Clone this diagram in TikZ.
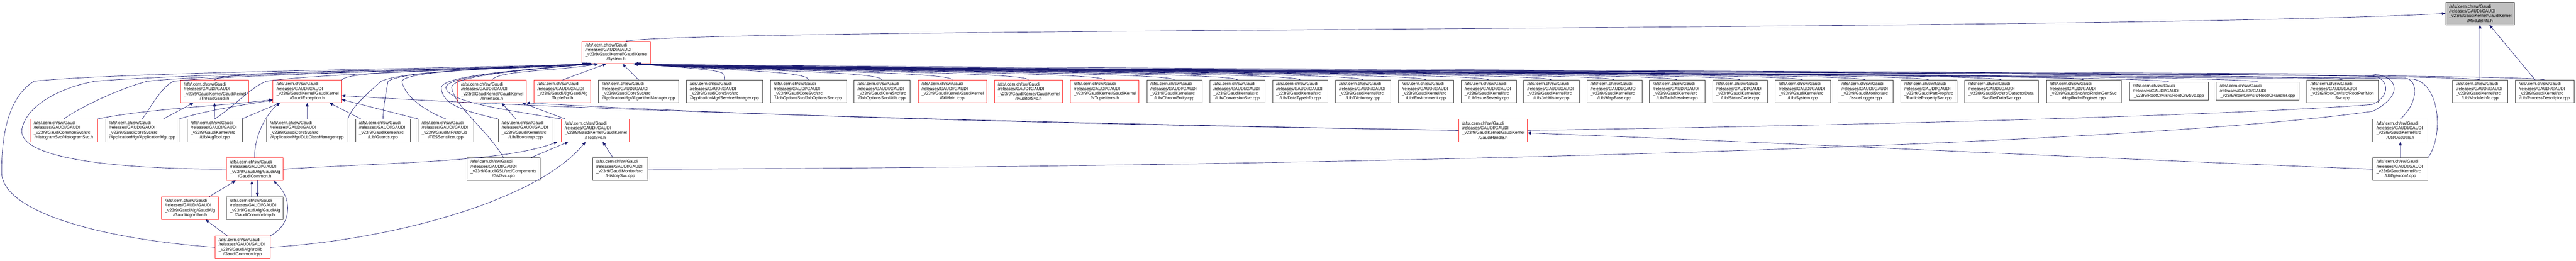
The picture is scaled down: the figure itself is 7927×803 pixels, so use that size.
\documentclass[tikz,border=0pt]{standalone}
\usepackage{fontspec}
\newfontfamily\dfont{Liberation Sans}
\usetikzlibrary{arrows.meta,calc}
\definecolor{edgec}{HTML}{191970}
\definecolor{redb}{HTML}{FF3030}
\definecolor{grayf}{HTML}{BFBFBF}
\tikzset{
 gbox/.style={draw, rectangle, line width=1.2pt, inner xsep=11pt, inner ysep=0pt, align=left,
   font=\dfont\fontsize{13}{14.7}\selectfont},
 rbox/.style={gbox, draw=redb},
 bbox/.style={gbox, draw=black!75},
 fbox/.style={gbox, draw=black!75, fill=grayf},
 edge/.style={draw=edgec, line width=1.1pt, -{Triangle[length=11pt,width=9pt]}},
}
\newcommand\pa{/afs/.cern.ch/sw/Gaudi\\/releases/GAUDI/GAUDI\\}
\newcommand\lastln[1]{\makebox[\linewidth][c]{#1}}
\newcommand\gn[7]{%
 \pgfmathsetmacro\gw{#4-#3}\pgfmathsetmacro\gh{#6-#5}\pgfmathsetmacro\gtw{#4-#3-22}%
 \pgfmathsetmacro\gcx{(#3+#4)/2}\pgfmathsetmacro\gcy{(#5+#6)/2}%
 \node[#1, minimum width=\gw pt, minimum height=\gh pt, text width=\gtw pt] (#2) at (\gcx,\gcy) {#7};}
\newcommand\GK{\_v23r9/GaudiKernel/GaudiKernel\\}
\newcommand\GS{\_v23r9/GaudiKernel/src\\}
\newcommand\CS{\_v23r9/GaudiCoreSvc/src\\}
\begin{document}
\begin{tikzpicture}[x=1pt,y=-1pt]
\fill[white] (0,0) rectangle (7927,803);
\useasboundingbox (0,0) rectangle (7927,803);
% rank 0
\gn{fbox}{mi}{7526}{7737}{7}{76}{\pa\GK\lastln{/ModuleInfo.h}}
% rank 1
\gn{rbox}{sys}{1790}{2001}{127}{196}{\pa\GK\lastln{/System.h}}
% rank 2
\gn{rbox}{tg}{555}{765}{247}{316}{\pa\GK\lastln{/ThreadGaudi.h}}
\gn{rbox}{gex}{840}{1051}{247}{316}{\pa\GK\lastln{/GaudiException.h}}
\gn{rbox}{ii}{1408}{1619}{247}{316}{\pa\GK\lastln{/IInterface.h}}
\gn{rbox}{tp}{1643}{1818}{247}{316}{\pa\_v23r9/GaudiAlg/GaudiAlg\\\lastln{/TuplePut.h}}
\gn{bbox}{am}{1842}{2089}{247}{316}{\pa\CS\lastln{/ApplicationMgr/AlgorithmManager.cpp}}
\gn{bbox}{sm}{2112}{2347}{247}{316}{\pa\CS\lastln{/ApplicationMgr/ServiceManager.cpp}}
\gn{bbox}{jo}{2371}{2605}{247}{316}{\pa\CS\lastln{/JobOptionsSvc/JobOptionsSvc.cpp}}
\gn{bbox}{ut}{2628}{2800}{247}{316}{\pa\CS\lastln{/JobOptionsSvc/Utils.cpp}}
\gn{rbox}{dm}{2825}{3036}{247}{316}{\pa\GK\lastln{/DllMain.icpp}}
\gn{rbox}{ia}{3060}{3270}{247}{316}{\pa\GK\lastln{/IAuditorSvc.h}}
\gn{rbox}{nt}{3294}{3505}{247}{316}{\pa\GK\lastln{/NTupleItems.h}}
\gn{bbox}{ce}{3529}{3699}{247}{316}{\pa\GS\lastln{/Lib/ChronoEntity.cpp}}
\gn{bbox}{cs}{3723}{3893}{247}{316}{\pa\GS\lastln{/Lib/ConversionSvc.cpp}}
\gn{bbox}{dt}{3916}{4086}{247}{316}{\pa\GS\lastln{/Lib/DataTypeInfo.cpp}}
\gn{bbox}{di}{4110}{4279}{247}{316}{\pa\GS\lastln{/Lib/Dictionary.cpp}}
\gn{bbox}{en}{4303}{4473}{247}{316}{\pa\GS\lastln{/Lib/Environment.cpp}}
\gn{bbox}{is}{4496}{4666}{247}{316}{\pa\GS\lastln{/Lib/IssueSeverity.cpp}}
\gn{bbox}{jh}{4689}{4859}{247}{316}{\pa\GS\lastln{/Lib/JobHistory.cpp}}
\gn{bbox}{mb}{4883}{5053}{247}{316}{\pa\GS\lastln{/Lib/MapBase.cpp}}
\gn{bbox}{pr}{5076}{5246}{247}{316}{\pa\GS\lastln{/Lib/PathResolver.cpp}}
\gn{bbox}{sc}{5270}{5439}{247}{316}{\pa\GS\lastln{/Lib/StatusCode.cpp}}
\gn{bbox}{sy}{5463}{5633}{247}{316}{\pa\GS\lastln{/Lib/System.cpp}}
\gn{bbox}{il}{5656}{5826}{247}{316}{\pa\_v23r9/GaudiMonitor/src\\\lastln{/IssueLogger.cpp}}
\gn{bbox}{pp}{5849}{6022}{247}{316}{\pa\_v23r9/GaudiPartProp/src\\\lastln{/ParticlePropertySvc.cpp}}
\gn{bbox}{dd}{6046}{6273}{247}{316}{\pa\_v23r9/GaudiSvc/src/DetectorData\\\lastln{Svc/DetDataSvc.cpp}}
\gn{bbox}{he}{6297}{6528}{247}{316}{\pa\_v23r9/GaudiSvc/src/RndmGenSvc\\\lastln{/HepRndmEngines.cpp}}
\gn{bbox}{rc}{6553}{6795}{253}{308}{\pa\lastln{\_v23r9/RootCnv/src/RootCnvSvc.cpp}}
\gn{bbox}{rio}{6820}{7075}{253}{308}{\pa\lastln{\_v23r9/RootCnv/src/RootIOHandler.cpp}}
\gn{bbox}{rpm}{7099}{7319}{247}{316}{\pa\_v23r9/RootCnv/src/RootPerfMon\\\lastln{Svc.cpp}}
\gn{bbox}{mic}{7547}{7716}{247}{316}{\pa\GS\lastln{/Lib/ModuleInfo.cpp}}
\gn{bbox}{pd}{7740}{7921}{247}{316}{\pa\GS\lastln{/Lib/ProcessDescriptor.cpp}}
% rank 3
\gn{rbox}{hs}{93}{300}{367}{436}{\pa\_v23r9/GaudiCommonSvc/src\\\lastln{/HistogramSvc/HistogramSvc.h}}
\gn{bbox}{amg}{325}{551}{367}{436}{\pa\CS\lastln{/ApplicationMgr/ApplicationMgr.cpp}}
\gn{bbox}{at}{576}{746}{367}{436}{\pa\GS\lastln{/Lib/AlgTool.cpp}}
\gn{bbox}{dll}{820}{1070}{367}{436}{\pa\CS\lastln{/ApplicationMgr/DLLClassManager.cpp}}
\gn{bbox}{gu}{1094}{1263}{367}{436}{\pa\GS\lastln{/Lib/Guards.cpp}}
\gn{bbox}{tes}{1287}{1457}{367}{436}{\pa\_v23r9/GaudiMP/src/Lib\\\lastln{/TESSerializer.cpp}}
\gn{bbox}{bs}{1533}{1702}{367}{436}{\pa\GS\lastln{/Lib/Bootstrap.cpp}}
\gn{rbox}{its}{1727}{1937}{367}{436}{\pa\GK\lastln{/IToolSvc.h}}
\gn{rbox}{gh}{4489}{4700}{367}{436}{\pa\GK\lastln{/GaudiHandle.h}}
\gn{bbox}{dso}{7302}{7471}{367}{436}{\pa\GS\lastln{/Util/DsoUtils.h}}
% rank 4
\gn{rbox}{gc}{697}{871}{486}{556}{\pa\_v23r9/GaudiAlg/GaudiAlg\\\lastln{/GaudiCommon.h}}
\gn{bbox}{gsl}{1437}{1662}{486}{556}{\pa\_v23r9/GaudiGSL/src/Components\\\lastln{/GslSvc.cpp}}
\gn{bbox}{hist}{1824}{1994}{486}{556}{\pa\_v23r9/GaudiMonitor/src\\\lastln{/HistorySvc.cpp}}
\gn{bbox}{gen}{7302}{7471}{486}{556}{\pa\GS\lastln{/Util/genconf.cpp}}
% rank 5
\gn{rbox}{ga}{497}{673}{606}{676}{\pa\_v23r9/GaudiAlg/GaudiAlg\\\lastln{/GaudiAlgorithm.h}}
\gn{bbox}{gci}{697}{871}{606}{676}{\pa\_v23r9/GaudiAlg/GaudiAlg\\\lastln{/GaudiCommonImp.h}}
% rank 6
\gn{rbox}{gcp}{662}{831}{727}{796}{\pa\_v23r9/GaudiAlg/src/lib\\\lastln{/GaudiCommon.icpp}}

% ---- edges
\draw[edge] ([xshift=30pt]sys.north) .. controls (2200,85) and (6500,95) .. (mi.west);
\draw[edge] (mic) -- (mi);
\draw[edge] (pd) -- (mi);
% rank 2 to System.h
\draw[edge] (tg.north) .. controls +(30,-35) and +(-300,22) .. ([xshift=-80pt]sys.south);
\draw[edge] (gex.north east) .. controls +(20,-35) and +(-250,22) .. ([xshift=-70pt]sys.south);
\draw[edge] (ii.north) .. controls +(20,-30) and +(-120,22) .. ([xshift=-55pt]sys.south);
\draw[edge] (tp.north) -- ([xshift=-30pt]sys.south);
\draw[edge] (am.north) -- ([xshift=20pt]sys.south);
\foreach \n in {sm,jo,ut,dm,ia,nt,ce,cs,dt,di,en,is,jh,mb,pr,sc,sy,il,pp,dd,he,rc,rio,rpm,mic,pd}
  {\draw[edge] (\n.north) .. controls +(0,-28) and +(300,22) .. ([xshift=55pt]sys.south);}
% rank 3 and below to System.h (through the rank-2 gaps)
\draw[edge] (hs.north) .. controls (260,320) and (400,262) .. (455,250) .. controls (700,225) and (1500,215) .. ([xshift=-90pt]sys.south);
\draw[edge] (amg.north) .. controls (470,320) and (500,265) .. (535,250) .. controls (800,225) and (1500,215) .. ([xshift=-88pt]sys.south);
\draw[edge] (at.north) .. controls (730,320) and (770,270) .. (820,250) .. controls (1000,225) and (1500,215) .. ([xshift=-86pt]sys.south);
\draw[edge] (dll.north east) .. controls (1080,330) and (1140,280) .. (1173,250) .. controls (1250,215) and (1600,210) .. ([xshift=-84pt]sys.south);
\draw[edge] (gu.north) .. controls (1180,320) and (1190,275) .. (1194,250) .. controls (1250,215) and (1600,210) .. ([xshift=-82pt]sys.south);
\draw[edge] (tes.north) .. controls (1280,330) and (1240,280) .. (1237,250) .. controls (1250,215) and (1600,210) .. ([xshift=-80pt]sys.south);
\draw[edge] (bs.north west) .. controls (1420,340) and (1360,320) .. (1358,270) .. controls (1360,230) and (1650,212) .. ([xshift=-76pt]sys.south);
\draw[edge] (its.north west) .. controls (1500,330) and (1380,310) .. (1372,270) .. controls (1372,230) and (1660,212) .. ([xshift=-74pt]sys.south);
\draw[edge] (gsl.north) .. controls (1500,400) and (1400,330) .. (1390,270) .. controls (1385,230) and (1670,212) .. ([xshift=-72pt]sys.south);
\draw[edge] (gc.west) .. controls (300,520) and (60,480) .. (67,400) .. controls (80,320) and (200,265) .. (295,250) .. controls (600,225) and (1500,212) .. ([xshift=-92pt]sys.south);
\draw[edge] (gcp.west) .. controls (300,735) and (5,650) .. (5,530) .. controls (5,380) and (40,290) .. (105,250) .. controls (400,220) and (1500,210) .. ([xshift=-94pt]sys.south);
\draw[edge] (hist.east) .. controls (4000,515) and (6500,455) .. (7300,343) .. controls (7390,300) and (7390,235) .. (7300,228) .. controls (5000,218) and (2400,205) .. ([xshift=60pt]sys.south);
\draw[edge] (gh.east) .. controls (5500,390) and (6800,360) .. (7300,322) .. controls (7360,295) and (7350,240) .. (7300,233) .. controls (5000,222) and (2400,208) .. ([xshift=62pt]sys.south);
\draw[edge] (dso.north) .. controls (7440,320) and (7445,245) .. (7400,240) .. controls (5000,225) and (2400,210) .. ([xshift=64pt]sys.south);
\draw[edge] (gen.north east) .. controls (7520,420) and (7510,250) .. (7420,243) .. controls (5000,228) and (2400,210) .. ([xshift=66pt]sys.south);
% other edges
\draw[edge] (amg) -- (tg);
\draw[edge] (at.north) -- (tg.south);
\draw[edge] (hs.north east) .. controls (450,335) and (700,325) .. ([yshift=10pt]gex.south west);
\draw[edge] (amg.north east) .. controls (620,345) and (700,330) .. ([yshift=8pt]gex.south west);
\draw[edge] (at) -- (gex);
\draw[edge] (dll) -- (gex);
\draw[edge] (gu) -- (gex);
\draw[edge] (tes.north west) -- ([yshift=10pt]gex.south east);
\draw[edge] (gh.west) .. controls (3000,375) and (1800,340) .. ([yshift=22pt]gex.south east);
\draw[edge] (gh.west) .. controls (3000,378) and (2200,350) .. (ii.south east);
\draw[edge] (bs) -- (ii);
\draw[edge] (its) -- (ii);
\draw[edge] (gc.north) .. controls (781,420) and (820,350) .. ([xshift=22pt]gex.south west);
\draw[edge] (gc.east) .. controls (1200,500) and (1550,500) .. ([xshift=-11pt]its.south west);
\draw[edge] ([xshift=8pt]gc.south) -- ([xshift=8pt]gci.north);
\draw[edge] ([xshift=-9pt]gci.north) -- ([xshift=-9pt]gc.south);
\draw[edge] (gsl) -- (its);
\draw[edge] (hist) -- (its);
\draw[edge] (gcp.east) .. controls (1200,740) and (1650,620) .. ([xshift=-30pt]its.south);
\draw[edge] (gcp.north east) .. controls (900,690) and (900,610) .. ([xshift=-30pt]gc.south east);
\draw[edge] (gcp) -- (ga);
\draw[edge] (ga) -- (gc);
\draw[edge] (gen) -- (dso);
\draw[edge] (gen.west) .. controls (6500,490) and (5500,440) .. ([yshift=-8pt]gh.east);
\end{tikzpicture}
\end{document}
